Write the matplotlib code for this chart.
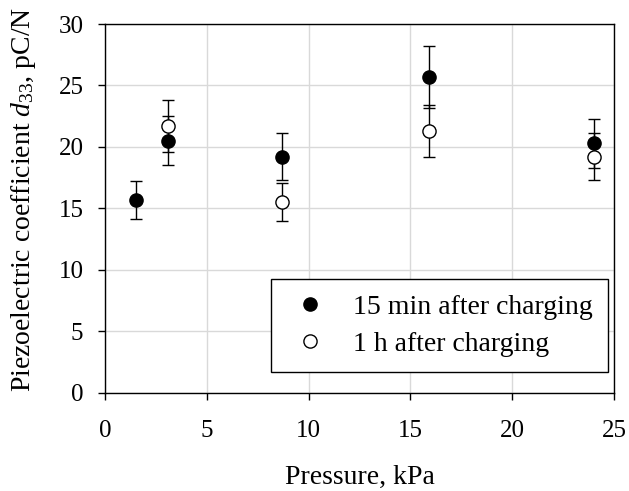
import matplotlib
matplotlib.use("Agg")
import matplotlib.pyplot as plt
from matplotlib.lines import Line2D

# pressure (kPa) and d33 (pC/N)
pressure = [1.5, 3.1, 8.7, 15.9, 24.0]
d33_15min = [15.7, 20.5, 19.2, 25.7, 20.3]
err_15min = [1.55, 2.0, 1.9, 2.5, 2.0]
# first pressure point has no 1 h measurement
p_1h = [3.1, 8.7, 15.9, 24.0]
d33_1h = [21.7, 15.5, 21.3, 19.2]
err_1h = [2.1, 1.55, 2.1, 1.9]

labels = ['15 min after charging', '1 h after charging']

plt.rcParams['font.family'] = ['Liberation Serif', 'DejaVu Serif']
plt.rcParams['mathtext.fontset'] = 'custom'
plt.rcParams['mathtext.rm'] = 'Liberation Serif'
plt.rcParams['mathtext.it'] = 'Liberation Serif:italic'

fig = plt.figure(figsize=(6.29, 4.91), dpi=100)
ax = fig.add_axes([0.1669, 0.2002, 0.8093, 0.7509])

ax.errorbar(pressure, d33_15min, yerr=err_15min, fmt='o', color='black',
            markerfacecolor='black', markeredgecolor='black', markersize=9.5,
            ecolor='black', elinewidth=1, capsize=4.3, capthick=1, zorder=3)
ax.errorbar(p_1h, d33_1h, yerr=err_1h, fmt='o', color='black',
            markerfacecolor='white', markeredgecolor='black', markersize=9.5,
            markeredgewidth=1, ecolor='black', elinewidth=1, capsize=4.3,
            capthick=1, zorder=4)

ax.set_xlim(0, 25)
ax.set_ylim(0, 30)
ax.set_xticks(range(0, 26, 5))
ax.set_yticks(range(0, 31, 5))
ax.grid(True, color='#d9d9d9', linewidth=1)
ax.set_axisbelow(True)
ax.tick_params(direction='out', length=5, width=1, labelsize=18)
ax.tick_params(axis='x', pad=15)
ax.tick_params(axis='y', pad=10.5)
for s in ax.spines.values():
    s.set_color('black')
    s.set_linewidth(1)

ax.set_xlabel('Pressure, kPa', fontsize=20, labelpad=16)
ax.set_ylabel('Piezoelectric coefficient $d_{33}$, pC/N', fontsize=20)
ax.yaxis.set_label_coords(-0.132, 0.523)

# legend shows markers only, no error bars
handles = [
    Line2D([], [], linestyle='none', marker='o', markersize=9.5,
           markerfacecolor='black', markeredgecolor='black'),
    Line2D([], [], linestyle='none', marker='o', markersize=9.5,
           markerfacecolor='white', markeredgecolor='black'),
]
leg = ax.legend(handles, labels, loc='lower right', bbox_to_anchor=(0.988, 0.057),
                borderaxespad=0, fontsize=20, fancybox=False, framealpha=1,
                edgecolor='black', handletextpad=0.72, borderpad=0.54,
                labelspacing=0.41, handlelength=1.7)
leg.get_frame().set_linewidth(1)

fig.savefig('out.png', dpi=100)
